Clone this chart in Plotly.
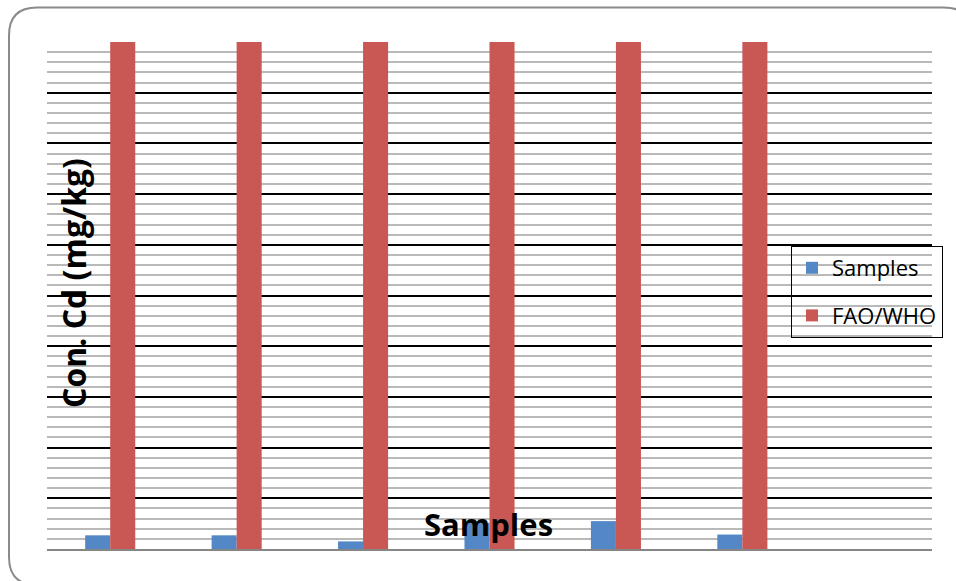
import plotly.graph_objects as go

categories = ["1", "2", "3", "4", "5", "6", "7"]
samples = [0.0054, 0.0054, 0.0030, 0.0103, 0.0110, 0.0057, None]
fao_who = [0.2, 0.2, 0.2, 0.2, 0.2, 0.2, None]

W, H = 956, 581
# target plot area on screen: x 47..932, y 42..549
ML, MT = 47, 42
MR = W - 932
MB = H - 549
PW = W - ML - MR
PH = H - MT - MB

def px(x):
    return (x - ML) / PW

def py(y):
    return (H - MB - y) / PH

fig = go.Figure()
fig.add_trace(go.Bar(x=categories, y=samples, name="Samples",
                     marker=dict(color="#5487C6", line=dict(width=0)),
                     legendgroup="a"))
fig.add_trace(go.Bar(x=categories, y=fao_who, name="FAO/WHO",
                     marker=dict(color="#C95754", line=dict(width=0)),
                     legendgroup="b"))

# rounded frame (screen coords)
l, t, r, b, rad = 9, 7.5, 972, 585, 28
path = (f"M {px(l+rad)},{py(t)} L {px(r-rad)},{py(t)} Q {px(r)},{py(t)} {px(r)},{py(t+rad)} "
        f"L {px(r)},{py(b-rad)} Q {px(r)},{py(b)} {px(r-rad)},{py(b)} "
        f"L {px(l+rad)},{py(b)} Q {px(l)},{py(b)} {px(l)},{py(b-rad)} "
        f"L {px(l)},{py(t+rad)} Q {px(l)},{py(t)} {px(l+rad)},{py(t)} Z")

fig.update_layout(
    width=W, height=H,
    margin=dict(l=ML, r=MR, t=MT, b=MB, autoexpand=False),
    paper_bgcolor="white", plot_bgcolor="white",
    barmode="group", bargap=0.604, bargroupgap=0,
    showlegend=True,
    font=dict(family="Open Sans", color="black"),
    legend=dict(x=px(791), y=py(246), xanchor="left", yanchor="top",
                bgcolor="rgba(0,0,0,0)", bordercolor="black", borderwidth=1,
                font=dict(size=22, family="Open Sans", color="black"),
                tracegroupgap=16, traceorder="grouped"),
    shapes=[dict(type="path", xref="paper", yref="paper", path=path,
                 line=dict(color="#8a8a8a", width=2), fillcolor="rgba(0,0,0,0)",
                 layer="below")],
    annotations=[
        dict(text="<b>Con. Cd (mg/kg)</b>", xref="paper", yref="paper",
             x=px(73), y=py(283), xanchor="center", yanchor="middle",
             textangle=-90, showarrow=False,
             font=dict(size=32, family="Open Sans", color="black")),
        dict(text="<b>Samples</b>", xref="paper", yref="paper",
             x=px(488), y=py(524), xanchor="center", yanchor="middle",
             showarrow=False,
             font=dict(size=31, family="Open Sans", color="black")),
    ],
)
fig.update_xaxes(showticklabels=False, ticks="", showgrid=False,
                 showline=True, linecolor="#868686", linewidth=2, zeroline=False)
fig.update_yaxes(range=[0, 0.2], dtick=0.02, showticklabels=False, ticks="",
                 showgrid=True, gridcolor="black", gridwidth=2,
                 minor=dict(dtick=0.004, showgrid=True, gridcolor="#b9b9b9", gridwidth=2),
                 showline=False, zeroline=False)

fig.write_html("out.html", config={"displayModeBar": False},
               post_script="document.body.style.margin='0';document.body.style.overflow='hidden';")
